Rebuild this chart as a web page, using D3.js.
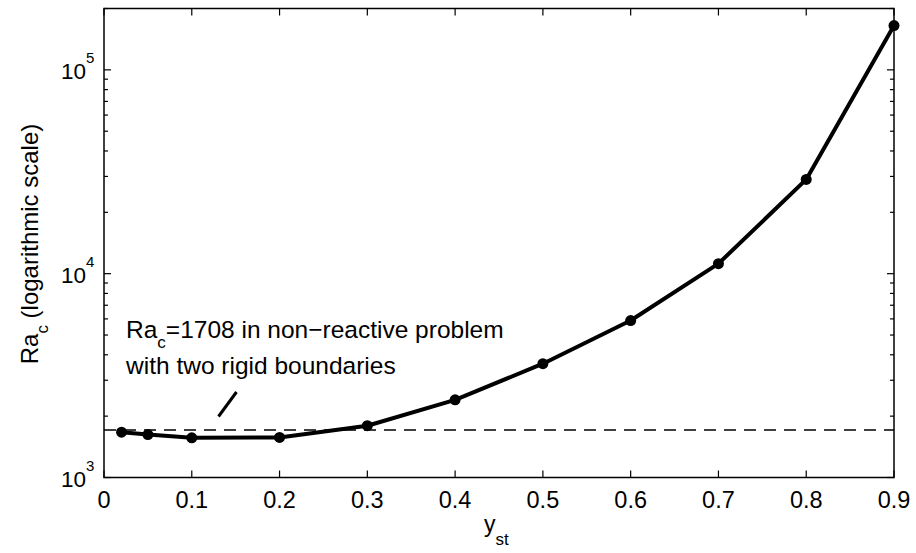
<!DOCTYPE html>
<html><head><meta charset="utf-8">
<script src="https://cdn.jsdelivr.net/npm/d3@7"></script>
<style>body{margin:0;background:#fff}svg{display:block;font-family:"Liberation Sans",Arial,Helvetica,sans-serif}</style>
</head><body><svg id="c" width="916" height="553"></svg>
<script>
const xValues = [0.02, 0.05, 0.1, 0.2, 0.3, 0.4, 0.5, 0.6, 0.7, 0.8, 0.9];
const raValues = [1668, 1624, 1565, 1572, 1795, 2405, 3616, 5890, 11200, 29000, 165000];
const xTicks = [0, 0.1, 0.2, 0.3, 0.4, 0.5, 0.6, 0.7, 0.8, 0.9];
const yMajorExp = [3, 4, 5];
const refValue = 1708;

const svg = d3.select("#c");
const L = 104, R = 894, T = 8.5, B = 477.5;
const x = d3.scaleLinear().domain([0, 0.9]).range([L, R]);
const y = d3.scaleLog().domain([1000, 200000]).range([B, T]);

svg.append("rect").attr("x", L).attr("y", T).attr("width", R - L).attr("height", B - T)
  .attr("fill", "none").attr("stroke", "#000").attr("stroke-width", 1.5);

const gx = svg.append("g");
xTicks.forEach(t => {
  gx.append("line").attr("x1", x(t)).attr("x2", x(t)).attr("y1", B).attr("y2", B - 7).attr("stroke", "#000").attr("stroke-width", 1.2);
  gx.append("line").attr("x1", x(t)).attr("x2", x(t)).attr("y1", T).attr("y2", T + 7).attr("stroke", "#000").attr("stroke-width", 1.2);
  gx.append("text").attr("x", x(t)).attr("y", 507.5).attr("text-anchor", "middle").attr("font-size", 23.5).text(t === 0 ? "0" : d3.format(".1f")(t));
});

const gy = svg.append("g");
const minor = [];
for (let e = 3; e <= 5; e++) for (let m = 1; m <= 9; m++) { const v = m * Math.pow(10, e); if (v <= 200000) minor.push(v); }
minor.forEach(v => {
  const len = (Math.abs(Math.log10(v) - Math.round(Math.log10(v))) < 1e-9) ? 7 : 4;
  gy.append("line").attr("x1", L).attr("x2", L + len).attr("y1", y(v)).attr("y2", y(v)).attr("stroke", "#000").attr("stroke-width", 1.2);
  gy.append("line").attr("x1", R).attr("x2", R - len).attr("y1", y(v)).attr("y2", y(v)).attr("stroke", "#000").attr("stroke-width", 1.2);
});
yMajorExp.forEach(e => {
  gy.append("text").attr("x", 86).attr("y", y(Math.pow(10, e)) + 9).attr("text-anchor", "end").attr("font-size", 22.5).text("10");
  gy.append("text").attr("x", 86).attr("y", y(Math.pow(10, e)) - 6.5).attr("font-size", 15).text(e);
});

svg.append("line").attr("x1", L).attr("x2", R).attr("y1", y(refValue)).attr("y2", y(refValue))
  .attr("stroke", "#000").attr("stroke-width", 1.5).attr("stroke-dasharray", "12,8");

const line = d3.line().x((d, i) => x(xValues[i])).y(d => y(d));
svg.append("path").datum(raValues).attr("d", line).attr("fill", "none").attr("stroke", "#000").attr("stroke-width", 4).attr("stroke-linejoin", "round");
svg.selectAll("circle.pt").data(raValues).enter().append("circle")
  .attr("cx", (d, i) => x(xValues[i])).attr("cy", d => y(d)).attr("r", 5.5).attr("fill", "#000");

const a1 = svg.append("text").attr("x", 126).attr("y", 338).attr("font-size", 24.5);
a1.append("tspan").text("Ra");
a1.append("tspan").attr("font-size", 17).attr("dy", 10).text("c");
a1.append("tspan").attr("dy", -10).text("=1708 in non\u2212reactive problem");
svg.append("text").attr("x", 126).attr("y", 374).attr("font-size", 24.5).text("with two rigid boundaries");
svg.append("line").attr("x1", 236.5).attr("y1", 392).attr("x2", 218.5).attr("y2", 416.5).attr("stroke", "#000").attr("stroke-width", 3);

const yl = svg.append("text").attr("transform", "translate(38,244) rotate(-90)").attr("text-anchor", "middle").attr("font-size", 24);
yl.append("tspan").text("Ra");
yl.append("tspan").attr("font-size", 17).attr("dy", 10).text("c");
yl.append("tspan").attr("dy", -10).text(" (logarithmic scale)");

const xl = svg.append("text").attr("x", 484).attr("y", 532).attr("font-size", 23);
xl.append("tspan").text("y");
xl.append("tspan").attr("font-size", 17).attr("dy", 13).text("st");
</script></body></html>
